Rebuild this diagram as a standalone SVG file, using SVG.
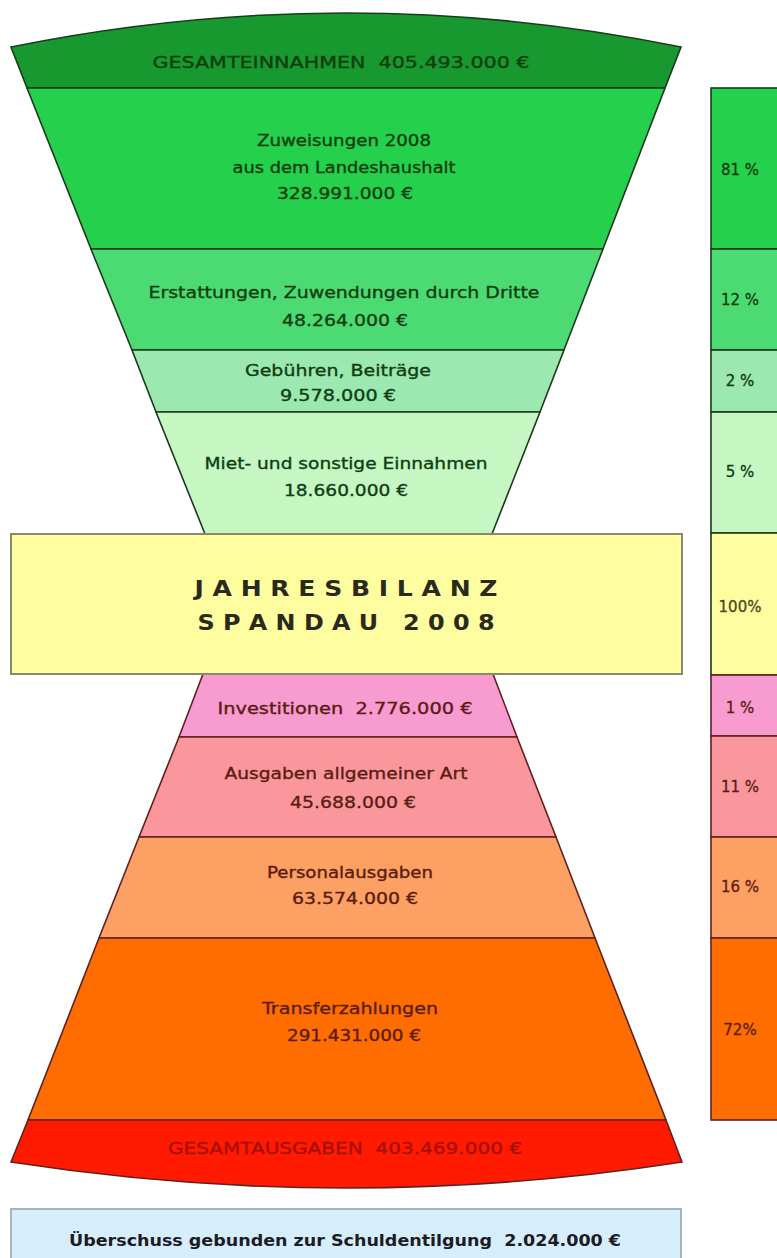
<svg xmlns="http://www.w3.org/2000/svg" width="777" height="1258" viewBox="0 0 777 1258">
<style>
  text { font-family: "DejaVu Sans", "Liberation Sans", sans-serif; text-anchor: middle; }
  .t { font-size: 16px; stroke-width: 0.35; }
  .g { fill: #103d12; stroke: #103d12; }
  .gs { stroke: #1c3a1c; stroke-width: 1.6; }
  .rs { stroke: #5e2222; stroke-width: 1.6; }
  .r { fill: #5a1d12; stroke: #5a1d12; }
  .title { font-size: 21px; font-weight: bold; fill: #2a2a1a; }
  .pct { font-size: 15px; stroke-width: 0.3; }
</style>
<rect width="777" height="1258" fill="#ffffff"/>

<g id="gesamteinnahmen">
  <path d="M11,47 Q346,-21 681,47 L665,88 L27,88 Z" fill="#18992f" class="gs"/>
  <text class="t" x="341" y="68" fill="#0c3f10" stroke="#0c3f10" textLength="377" lengthAdjust="spacingAndGlyphs" xml:space="preserve">GESAMTEINNAHMEN  405.493.000 €</text>
</g>

<g id="zuweisungen">
  <path d="M27,88 L665,88 L603,249 L91,249 Z" fill="#24d04c" class="gs"/>
  <text class="t g" x="344" y="146" textLength="174" lengthAdjust="spacingAndGlyphs">Zuweisungen 2008</text>
  <text class="t g" x="344" y="173" textLength="223" lengthAdjust="spacingAndGlyphs">aus dem Landeshaushalt</text>
  <text class="t g" x="345" y="199" textLength="136" lengthAdjust="spacingAndGlyphs">328.991.000 €</text>
</g>

<g id="erstattungen">
  <path d="M91,249 L603,249 L564,350 L132,350 Z" fill="#4cdb73" class="gs"/>
  <text class="t g" x="344" y="298" textLength="391" lengthAdjust="spacingAndGlyphs">Erstattungen, Zuwendungen durch Dritte</text>
  <text class="t g" x="345" y="326" textLength="126" lengthAdjust="spacingAndGlyphs">48.264.000 €</text>
</g>

<g id="gebuehren">
  <path d="M132,350 L564,350 L540,412 L156,412 Z" fill="#9be8b0" class="gs"/>
  <text class="t g" x="338" y="376" textLength="186" lengthAdjust="spacingAndGlyphs">Gebühren, Beiträge</text>
  <text class="t g" x="338" y="401" textLength="116" lengthAdjust="spacingAndGlyphs">9.578.000 €</text>
</g>

<g id="mieteinnahmen">
  <path d="M156,412 L540,412 L492,534 L205,534 Z" fill="#c6f7c2" class="gs"/>
  <text class="t g" x="346" y="469" textLength="283" lengthAdjust="spacingAndGlyphs">Miet- und sonstige Einnahmen</text>
  <text class="t g" x="346" y="496" textLength="124" lengthAdjust="spacingAndGlyphs">18.660.000 €</text>
</g>

<g id="investitionen">
  <path d="M203,674 L493,674 L517,737 L179,737 Z" fill="#f79bd0" class="rs"/>
  <text class="t r" x="345" y="714" textLength="255" lengthAdjust="spacingAndGlyphs" xml:space="preserve">Investitionen  2.776.000 €</text>
</g>

<g id="ausgaben">
  <path d="M179,737 L517,737 L556,837 L139,837 Z" fill="#f9979c" class="rs"/>
  <text class="t r" x="346" y="779" textLength="243" lengthAdjust="spacingAndGlyphs">Ausgaben allgemeiner Art</text>
  <text class="t r" x="353" y="808" textLength="126" lengthAdjust="spacingAndGlyphs">45.688.000 €</text>
</g>

<g id="personalausgaben">
  <path d="M139,837 L556,837 L595,938 L99,938 Z" fill="#fca063" class="rs"/>
  <text class="t r" x="350" y="878" textLength="166" lengthAdjust="spacingAndGlyphs">Personalausgaben</text>
  <text class="t r" x="355" y="904" textLength="126" lengthAdjust="spacingAndGlyphs">63.574.000 €</text>
</g>

<g id="transferzahlungen">
  <path d="M99,938 L595,938 L666,1120 L28,1120 Z" fill="#ff6d00" class="rs"/>
  <text class="t r" x="350" y="1014" textLength="176" lengthAdjust="spacingAndGlyphs">Transferzahlungen</text>
  <text class="t r" x="354" y="1041" textLength="134" lengthAdjust="spacingAndGlyphs">291.431.000 €</text>
</g>

<g id="gesamtausgaben">
  <path d="M28,1120 L666,1120 L682,1162 Q347,1214 11,1162 Z" fill="#ff1a00" class="rs"/>
  <text class="t" x="345" y="1154" fill="#a80f0a" stroke="#a80f0a" textLength="354" lengthAdjust="spacingAndGlyphs" xml:space="preserve">GESAMTAUSGABEN  403.469.000 €</text>
</g>

<g id="jahresbilanz">
  <rect x="11" y="534" width="671" height="140" fill="#fefea0" stroke="#8a8a66" stroke-width="2"/>
  <text class="title" x="346" y="596" textLength="303" lengthAdjust="spacingAndGlyphs">J A H R E S B I L A N Z</text>
  <text class="title" x="346" y="630" textLength="297" lengthAdjust="spacingAndGlyphs" xml:space="preserve">S P A N D A U   2 0 0 8</text>
</g>

<g id="ueberschuss">
  <rect x="11" y="1209" width="670" height="70" fill="#d6edfb" stroke="#a6b3bd" stroke-width="2"/>
  <text x="345" y="1246" font-size="16" font-weight="bold" fill="#1c1c24" textLength="552" lengthAdjust="spacingAndGlyphs" xml:space="preserve">Überschuss gebunden zur Schuldentilgung  2.024.000 €</text>
</g>

<g id="prozent">
  <rect x="711" y="88" width="80" height="161" fill="#24d04c" class="gs"/>
  <rect x="711" y="249" width="80" height="101" fill="#4cdb73" class="gs"/>
  <rect x="711" y="350" width="80" height="62" fill="#9be8b0" class="gs"/>
  <rect x="711" y="412" width="80" height="121" fill="#c6f7c2" class="gs"/>
  <rect x="711" y="533" width="80" height="142" fill="#fefea0" class="gs"/>
  <rect x="711" y="675" width="80" height="61" fill="#f79bd0" class="rs"/>
  <rect x="711" y="736" width="80" height="101" fill="#f9979c" class="rs"/>
  <rect x="711" y="837" width="80" height="101" fill="#fca063" class="rs"/>
  <rect x="711" y="938" width="80" height="182" fill="#ff6d00" class="rs"/>
  <text class="pct g" x="740" y="175">81 %</text>
  <text class="pct g" x="740" y="305">12 %</text>
  <text class="pct g" x="740" y="386">2 %</text>
  <text class="pct g" x="740" y="477">5 %</text>
  <text class="pct" x="740" y="612" fill="#4a4a20" stroke="#4a4a20">100%</text>
  <text class="pct r" x="740" y="713">1 %</text>
  <text class="pct r" x="740" y="792">11 %</text>
  <text class="pct r" x="740" y="892">16 %</text>
  <text class="pct r" x="740" y="1035">72%</text>
</g>

<g id="connectors"></g>
</svg>
